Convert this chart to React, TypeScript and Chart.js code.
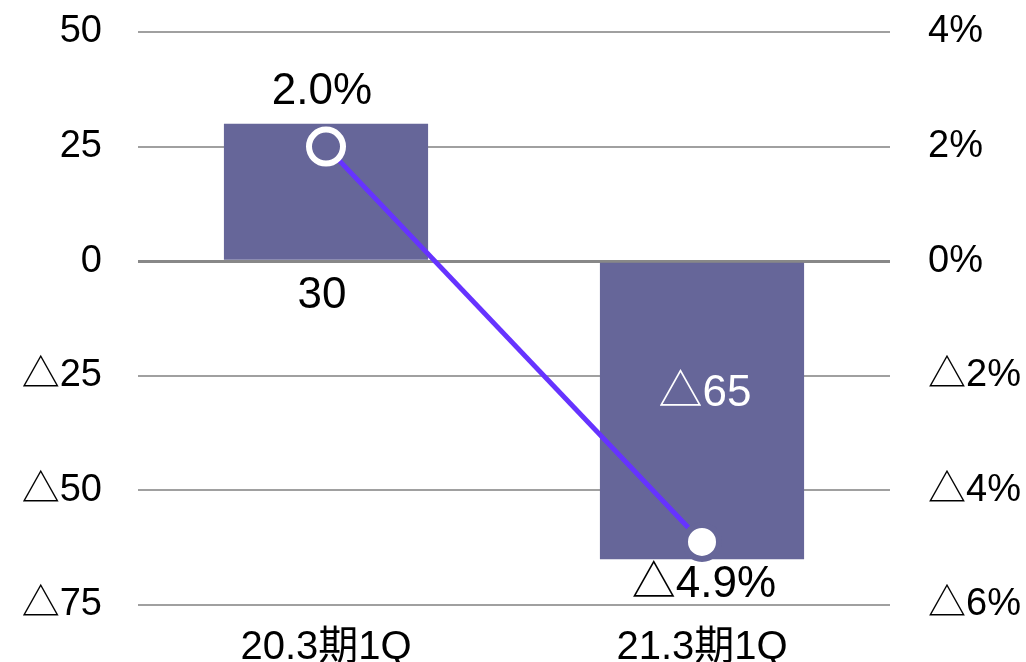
import React, { useEffect, useRef } from 'react';
import { Chart, registerables } from 'chart.js';

Chart.register(...registerables);

const categories: string[] = ['20.3期1Q', '21.3期1Q'];
const profitValues: number[] = [30, -65];
const marginValues: number[] = [2.0, -4.9];
const leftAxisRange: number[] = [-75, 50, 25];
const rightAxisRange: number[] = [-6, 4, 2];

const BAR_COLOR = '#666699';
const LINE_COLOR = '#6633ff';
const FONT = '"Liberation Sans", Arial, "Noto Sans CJK JP", sans-serif';

const tri = (v: number, suffix = '', digits = -1) => {
  const a = Math.abs(v);
  const s = digits >= 0 ? a.toFixed(digits) : String(a);
  return (v < 0 ? '△' : '') + s + suffix;
};

const labelPlugin = {
  id: 'valueLabels',
  afterDatasetsDraw(chart: any) {
    const ctx = chart.ctx as CanvasRenderingContext2D;
    ctx.save();
    ctx.textAlign = 'center';
    ctx.textBaseline = 'middle';
    ctx.font = `44px ${FONT}`;
    const barMeta = chart.getDatasetMeta(0);
    barMeta.data.forEach((el: any, i: number) => {
      const v = profitValues[i];
      const p = el.getProps(['x', 'y', 'base'], true);
      if (v >= 0) {
        ctx.fillStyle = '#000';
        ctx.fillText(tri(v), p.x - 4, p.base + 36);
      } else {
        ctx.fillStyle = '#fff';
        ctx.fillText(tri(v), p.x + 3, p.base + 131);
      }
    });
    const lineMeta = chart.getDatasetMeta(1);
    lineMeta.data.forEach((el: any, i: number) => {
      const v = marginValues[i];
      const p = el.getProps(['x', 'y'], true);
      ctx.fillStyle = '#000';
      ctx.fillText(tri(v, '%', 1), v >= 0 ? p.x - 4 : p.x + 2, v >= 0 ? p.y - 55 : p.y + 43);
    });
    ctx.restore();
  },
};

export default function App() {
  const canvasRef = useRef<HTMLCanvasElement | null>(null);

  useEffect(() => {
    if (!canvasRef.current) return;
    const chart = new Chart(canvasRef.current, {
      type: 'bar',
      data: {
        labels: categories,
        datasets: [
          {
            type: 'bar',
            data: profitValues,
            backgroundColor: BAR_COLOR,
            borderWidth: 0,
            categoryPercentage: 1,
            barPercentage: 0.543,
            yAxisID: 'y',
            order: 2,
          } as any,
          {
            type: 'line',
            data: marginValues,
            borderColor: LINE_COLOR,
            borderWidth: 5,
            pointRadius: 17,
            pointBorderWidth: 6,
            pointBackgroundColor: [BAR_COLOR, '#ffffff'],
            pointBorderColor: ['#ffffff', BAR_COLOR],
            yAxisID: 'y2',
            order: 1,
          } as any,
        ],
      },
      options: {
        animation: false,
        responsive: true,
        maintainAspectRatio: false,
        layout: { padding: { top: 32, left: 0, right: 0, bottom: 0 } },
        plugins: { legend: { display: false }, tooltip: { enabled: false } },
        scales: {
          x: {
            grid: { display: false },
            border: { display: false },
            ticks: { color: '#000', font: { size: 40, family: FONT }, padding: 11, maxRotation: 0 },
            afterFit: (s: any) => { s.height = 57; s.paddingLeft = 0; s.paddingRight = 0; },
          },
          y: {
            position: 'left',
            min: leftAxisRange[0],
            max: leftAxisRange[1],
            border: { display: false },
            grid: {
              drawTicks: false,
              color: (c: any) => (c.tick && c.tick.value === 0 ? '#888888' : '#a0a0a0'),
              lineWidth: (c: any) => (c.tick && c.tick.value === 0 ? 3 : 2),
            },
            ticks: {
              stepSize: leftAxisRange[2],
              color: '#000',
              padding: 36,
              font: { size: 38, family: FONT },
              callback: (v: any) => tri(Number(v)),
            },
            afterFit: (s: any) => { s.width = 138; s.paddingTop = 0; s.paddingBottom = 0; },
          },
          y2: {
            position: 'right',
            min: rightAxisRange[0],
            max: rightAxisRange[1],
            border: { display: false },
            grid: { display: false, drawTicks: false },
            ticks: {
              stepSize: rightAxisRange[2],
              color: '#000',
              padding: 38,
              font: { size: 38, family: FONT },
              callback: (v: any) => tri(Number(v), '%'),
            },
            afterFit: (s: any) => { s.width = 136; s.paddingTop = 0; s.paddingBottom = 0; },
          },
        },
      },
      plugins: [labelPlugin],
    } as any);
    return () => chart.destroy();
  }, []);

  return (
    <div style={{ position: 'fixed', left: 0, top: 0, width: 1026, height: 662, background: '#fff' }}>
      <canvas ref={canvasRef} />
    </div>
  );
}
